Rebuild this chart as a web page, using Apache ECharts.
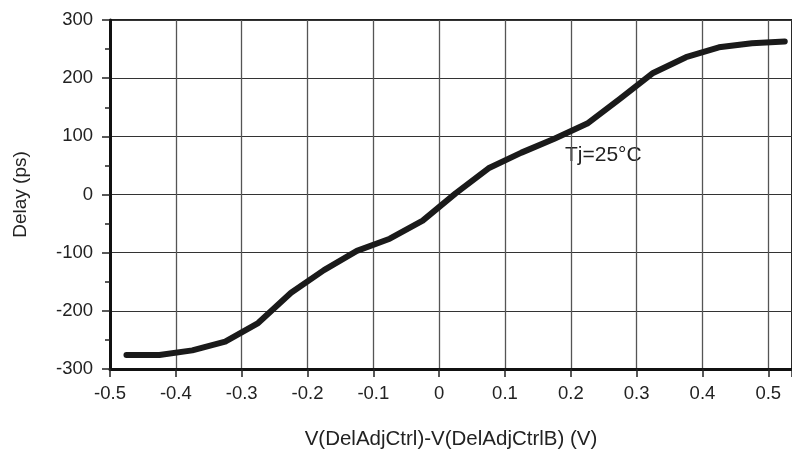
<!DOCTYPE html>
<html>
<head>
<meta charset="utf-8">
<script src="https://cdn.jsdelivr.net/npm/echarts@6/dist/echarts.min.js"></script>
<style>html,body{margin:0;padding:0;background:#fff}#c{width:792px;height:449px}</style>
</head>
<body>
<div id="c"></div>
<script>
const xValues = [-0.475,-0.425,-0.375,-0.325,-0.275,-0.225,-0.175,-0.125,-0.075,-0.025,0.025,0.075,0.125,0.175,0.225,0.275,0.325,0.375,0.425,0.475,0.525];
const delayValues = [-276,-276,-268,-253,-221,-169,-130,-97,-76,-45,2,45,72,96,122,165,209,236,253,260,263];
const xTicks = [-0.5,-0.4,-0.3,-0.2,-0.1,0,0.1,0.2,0.3,0.4,0.5];
const yTicks = [-300,-200,-100,0,100,200,300];
const xTitle = 'V(DelAdjCtrl)-V(DelAdjCtrlB) (V)';
const yTitle = 'Delay (ps)';
const note = 'Tj=25°C';

const font = '"Liberation Sans", Arial, sans-serif';
const chart = echarts.init(document.getElementById('c'), null, {renderer:'canvas'});
chart.setOption({
  animation:false,
  backgroundColor:'#fff',
  grid:{left:110, top:20, right:0, bottom:80, outerBoundsMode:'none', containLabel:false, show:true, borderColor:'#222', borderWidth:2, backgroundColor:'transparent'},
  xAxis:{
    type:'value', min:-0.5, max:0.536, interval:0.1,
    name:xTitle, nameLocation:'middle', nameGap:60,
    nameTextStyle:{fontFamily:font, fontSize:20.5, color:'#222'},
    axisLine:{show:true, onZero:false, lineStyle:{color:'#111', width:3}},
    axisTick:{show:true, length:8, lineStyle:{color:'#222', width:1.5}},
    axisLabel:{fontFamily:font, fontSize:18.5, color:'#222', margin:15,
      formatter:v=>{const r=Math.round(v*10)/10; return xTicks.some(t=>Math.abs(t-v)<1e-6)? (r===0?'0':String(r)) : '';}},
    splitLine:{show:true, lineStyle:{color:'#555', width:1.3}}
  },
  yAxis:{
    type:'value', min:-300, max:300, interval:100,
    name:yTitle, nameLocation:'middle', nameGap:80,
    nameTextStyle:{fontFamily:font, fontSize:19, color:'#222'},
    axisLine:{show:true, onZero:false, lineStyle:{color:'#111', width:3}},
    axisTick:{show:true, length:8, lineStyle:{color:'#222', width:1.5}},
    minorTick:{show:true, splitNumber:2, length:5, lineStyle:{color:'#222', width:1.5}},
    axisLabel:{fontFamily:font, fontSize:18.5, color:'#222', margin:17,
      formatter:v=>yTicks.includes(v)?String(v):''},
    splitLine:{show:true, lineStyle:{color:'#333', width:1.2}}
  },
  graphic:[{type:'text', left:565, top:145, style:{text:note, fontFamily:font, fontSize:21, fill:'#222'}}],
  series:[{
    type:'line', data:xValues.map((x,i)=>[x,delayValues[i]]),
    showSymbol:false, symbol:'none',
    lineStyle:{color:'#1a1a1a', width:6, cap:'round', join:'round'}
  }]
});
</script>
</body>
</html>
